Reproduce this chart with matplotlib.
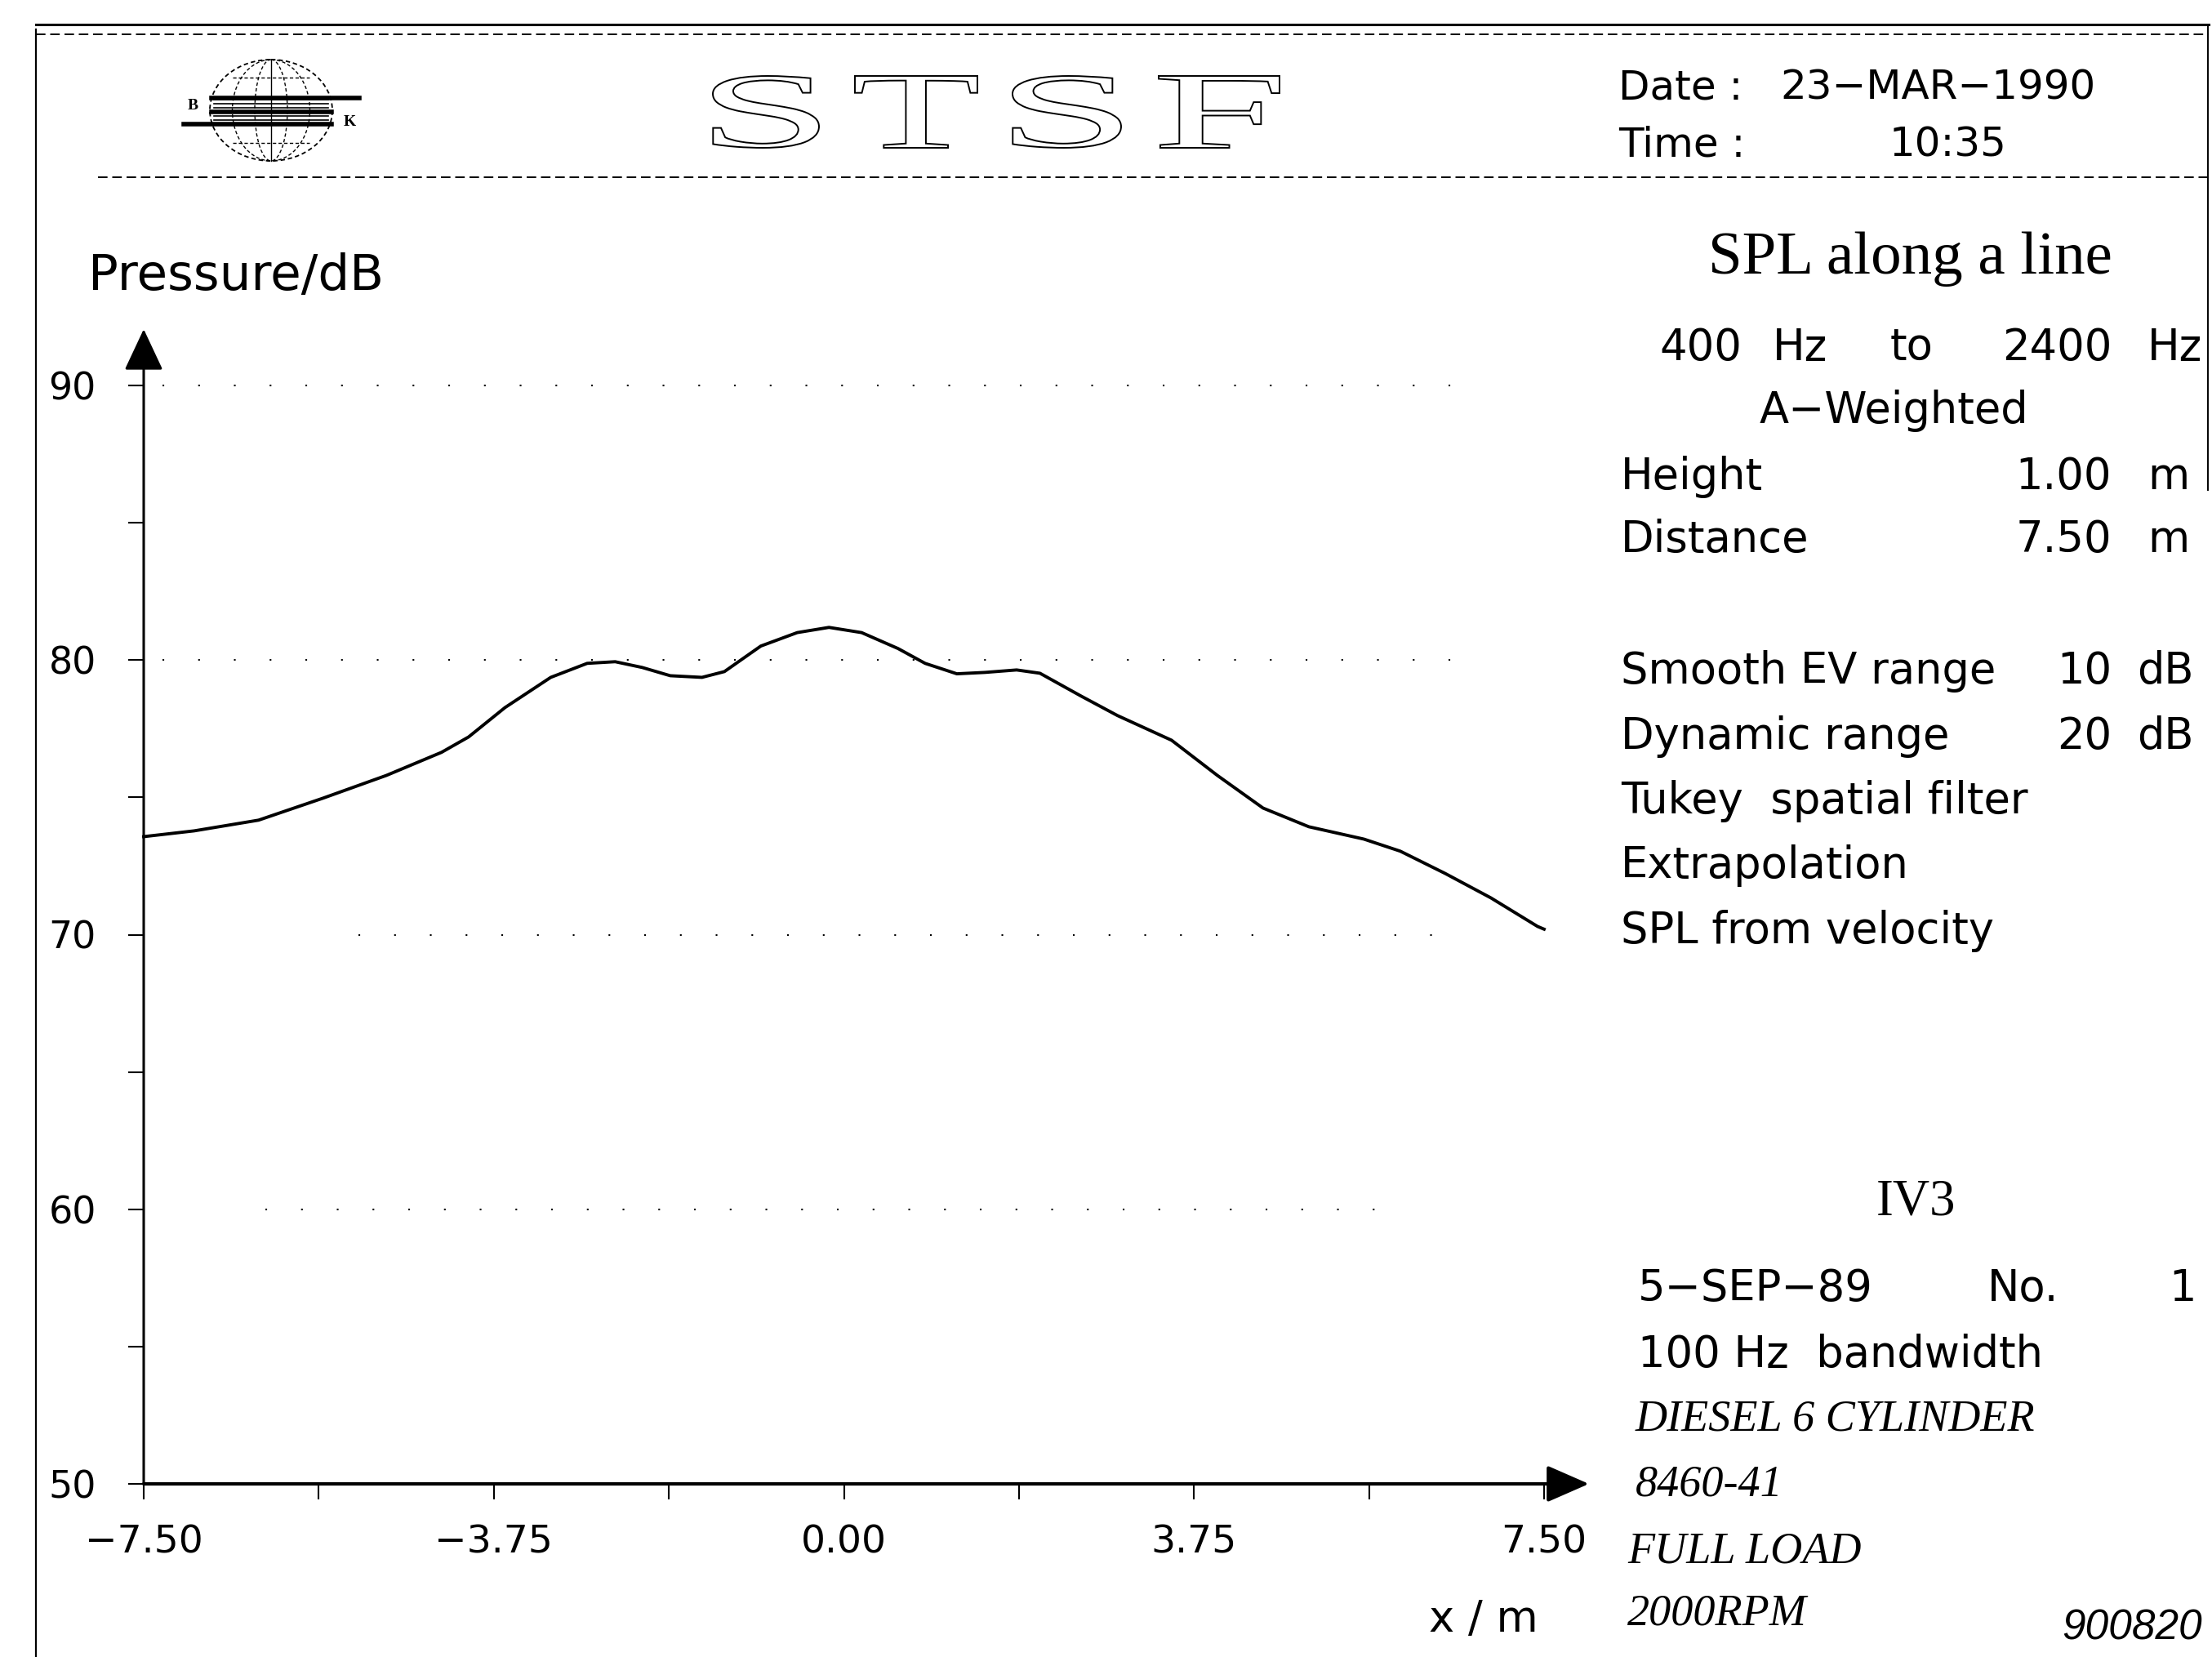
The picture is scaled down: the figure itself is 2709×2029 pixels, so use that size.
import matplotlib
matplotlib.use('Agg')
import matplotlib.pyplot as plt
from matplotlib.patches import Ellipse, PathPatch
from matplotlib.textpath import TextPath
from matplotlib.font_manager import FontProperties
from matplotlib.transforms import Affine2D

# SPL along the line
x_pos = [-7.50, -6.96, -6.27, -5.58, -4.90, -4.31, -4.02, -3.63, -3.14, -2.75,
         -2.45, -2.16, -1.86, -1.52, -1.28, -0.89, -0.50, -0.16, 0.19, 0.58,
         0.87, 1.21, 1.51, 1.85, 2.10, 2.54, 2.93, 3.51, 4.00, 4.49,
         4.98, 5.57, 5.96, 6.44, 6.93, 7.43, 7.50]
spl_db = [73.57, 73.78, 74.17, 74.97, 75.80, 76.64, 77.20, 78.27, 79.37, 79.88,
          79.94, 79.73, 79.43, 79.37, 79.58, 80.51, 81.00, 81.19, 81.00, 80.42,
          79.88, 79.50, 79.55, 79.64, 79.52, 78.69, 77.98, 77.08, 75.80, 74.61,
          73.93, 73.48, 73.04, 72.23, 71.34, 70.30, 70.20]

x_ticks = [-7.5, -5.625, -3.75, -1.875, 0.0, 1.875, 3.75, 5.625, 7.5]
x_tick_labels = ['\u22127.50', '', '\u22123.75', '', '0.00', '', '3.75', '', '7.50']
y_ticks = [50, 55, 60, 65, 70, 75, 80, 85, 90]
y_tick_labels = ['50', '', '60', '', '70', '', '80', '', '90']
grid_db = [90, 80, 70, 60]

setup_lines = ['Smooth EV range', 'Dynamic range', 'Tukey  spatial filter',
               'Extrapolation', 'SPL from velocity']
setup_values = ['10', '20', '', '', '']
setup_units = ['dB', 'dB', '', '', '']
job_lines = ['100 Hz  bandwidth']
job_italic = ['DIESEL 6 CYLINDER', '8460-41', 'FULL LOAD', '2000RPM']

W, H = 2709, 2029
SANS = 'DejaVu Sans'
SERIF = 'Liberation Serif'

fig = plt.figure(figsize=(W / 100, H / 100), dpi=100)
fig.patch.set_facecolor('white')

# overlay in pixel coords for the page furniture
ov = fig.add_axes([0, 0, 1, 1], zorder=0)
ov.set_xlim(0, W)
ov.set_ylim(H, 0)
ov.axis('off')

# frame
ov.plot([44, 44], [36, H], color='k', lw=1.6)
ov.plot([44, 2705], [30, 30], color='k', lw=2.2)
ov.plot([44, 2705], [42, 42], color='k', lw=1.4, ls=(0, (6, 3)))
ov.plot([120, 2709], [217, 217], color='k', lw=1.4, ls=(0, (6, 3)))
ov.plot([2704, 2704], [30, 600], color='k', lw=1.4)

# logo
ov.add_patch(Ellipse((332, 135), 150, 124, fill=False, lw=1.3, ls=(0, (3, 2))))
for w in (95, 40):
    ov.add_patch(Ellipse((332, 135), w, 124, fill=False, lw=1.0, ls=(0, (3, 2))))
ov.plot([332, 332], [73, 197], color='k', lw=1.0)
for yy in (95, 175):
    ov.plot([285, 379], [yy, yy], color='k', lw=1.0, ls=(0, (3, 2)))
ov.plot([259, 440], [120, 120], color='k', lw=4)
ov.plot([259, 406], [137, 137], color='k', lw=4)
ov.plot([225, 406], [152, 152], color='k', lw=4)
for yy in range(122, 152, 5):
    ov.plot([262, 402], [yy, yy], color='k', lw=1.2)
ov.text(236, 130, 'B', fontsize=14, family=SERIF, fontweight='bold', ha='center', va='center')
ov.text(428, 150, 'K', fontsize=14, family=SERIF, fontweight='bold', ha='center', va='center')


def outline_letter(ch, x0, x1, y0, y1):
    tp = TextPath((0, 0), ch, size=100, prop=FontProperties(family=SERIF))
    bb = tp.get_extents()
    tr = Affine2D().translate(-bb.x0, -bb.y0).scale((x1 - x0) / bb.width, -(y1 - y0) / bb.height).translate(x0, y1)
    ov.add_patch(PathPatch(tr.transform_path(tp), facecolor='white', edgecolor='black', lw=1.4))


for ch, x0, x1 in [('S', 873, 1003), ('T', 1047, 1197), ('S', 1240, 1373), ('F', 1419, 1567)]:
    outline_letter(ch, x0, x1, 93, 181)

# header date / time
ov.text(1982, 122, 'Date :', fontsize=36, family=SANS, va='baseline')
ov.text(2180, 122, '23\u2212MAR\u22121990', fontsize=36, family=SANS, va='baseline')
ov.text(1982, 192, 'Time :', fontsize=36, family=SANS, va='baseline')
ov.text(2314, 192, '10:35', fontsize=36, family=SANS, va='baseline')

# axis titles
ov.text(108, 355, 'Pressure/dB', fontsize=44, family=SANS, va='baseline')
ov.text(1884, 1998, 'x / m', fontsize=38, family=SANS, va='baseline', ha='right')

# right panel
ov.text(2339, 335, 'SPL along a line', fontsize=54, family=SERIF, va='baseline', ha='center')
fs = 38
ov.text(2032, 441, '400', fontsize=fs, family=SANS, va='baseline')
ov.text(2171, 441, 'Hz', fontsize=fs, family=SANS, va='baseline')
ov.text(2315, 441, 'to', fontsize=fs, family=SANS, va='baseline')
ov.text(2452, 441, '2400', fontsize=fs, family=SANS, va='baseline')
ov.text(2630, 441, 'Hz', fontsize=fs, family=SANS, va='baseline')
ov.text(2319, 518, 'A\u2212Weighted', fontsize=fs, family=SANS, va='baseline', ha='center')
ov.text(1985, 599, 'Height', fontsize=fs, family=SANS, va='baseline')
ov.text(2586, 599, '1.00', fontsize=fs, family=SANS, va='baseline', ha='right')
ov.text(2630, 599, 'm', fontsize=fs, family=SANS, va='baseline')
ov.text(1985, 676, 'Distance', fontsize=fs, family=SANS, va='baseline')
ov.text(2586, 676, '7.50', fontsize=fs, family=SANS, va='baseline', ha='right')
ov.text(2630, 676, 'm', fontsize=fs, family=SANS, va='baseline')

for i, (name, val, unit) in enumerate(zip(setup_lines, setup_values, setup_units)):
    yb = 837 + i * 79.5
    ov.text(1985, yb, name, fontsize=fs, family=SANS, va='baseline')
    if val:
        ov.text(2586, yb, val, fontsize=fs, family=SANS, va='baseline', ha='right')
        ov.text(2617, yb, unit, fontsize=fs, family=SANS, va='baseline')

ov.text(2347, 1488, 'IV3', fontsize=45, family=SERIF, va='baseline', ha='center')
ov.text(2006, 1593, '5\u2212SEP\u221289', fontsize=fs, family=SANS, va='baseline')
ov.text(2434, 1593, 'No.', fontsize=fs, family=SANS, va='baseline')
ov.text(2656, 1593, '1', fontsize=fs, family=SANS, va='baseline')
ov.text(2006, 1674, job_lines[0], fontsize=fs, family=SANS, va='baseline')
for txt, yb, xx in zip(job_italic, [1752, 1831, 1914, 1990], [2003, 2003, 1993, 1993]):
    ov.text(xx, yb, txt, fontsize=39, family=SERIF, style='italic', va='baseline')
ov.text(2697, 2007, '900820', fontsize=37, family='Liberation Sans', style='italic',
        va='baseline', ha='right')

# main plot
ax = fig.add_axes([176 / W, 1 - 1817 / H, (1891 - 176) / W, (1817 - 472) / H], zorder=1)
ax.set_facecolor('none')
ax.set_xlim(-7.5, 7.5)
ax.set_ylim(50, 90)
for s in ax.spines.values():
    s.set_visible(False)

spans = {90: (-7.3, 6.8), 80: (-7.3, 6.8), 70: (-5.2, 6.4), 60: (-6.2, 5.8)}
for lv in grid_db:
    a, b = spans[lv]
    ax.plot([a, b], [lv, lv], color='k', lw=1.5, ls=(0, (1, 20)), clip_on=False)

ax.plot(x_pos, spl_db, color='k', lw=2.8, clip_on=False, zorder=3)

ax.annotate('', xy=(-7.5, 92.05), xytext=(-7.5, 50), annotation_clip=False,
            arrowprops=dict(arrowstyle='-|>,head_length=1.6,head_width=0.75', mutation_scale=20,
                            color='k', lw=2.2, shrinkA=0, shrinkB=0))
ax.annotate('', xy=(7.98, 50), xytext=(-7.5, 50), annotation_clip=False,
            arrowprops=dict(arrowstyle='-|>,head_length=1.6,head_width=0.7', mutation_scale=20,
                            color='k', lw=3, shrinkA=0, shrinkB=0))

ax.set_xticks(x_ticks)
ax.set_xticklabels(x_tick_labels)
ax.set_yticks(y_ticks)
ax.set_yticklabels(y_tick_labels)
ax.tick_params(axis='x', direction='out', length=14, width=1.5, pad=22, labelsize=34)
ax.tick_params(axis='y', direction='out', length=14, width=1.5, pad=28, labelsize=33)
for lab in ax.get_xticklabels() + ax.get_yticklabels():
    lab.set_family(SANS)

fig.savefig('out.png', dpi=100)
